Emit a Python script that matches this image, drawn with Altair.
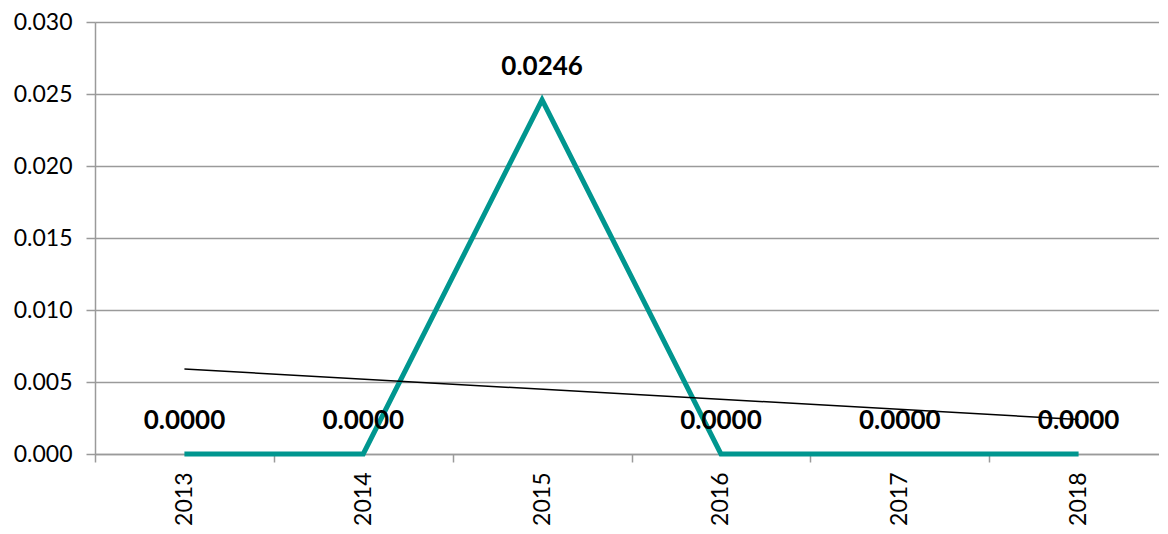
import altair as alt
import pandas as pd

years = ["2013", "2014", "2015", "2016", "2017", "2018"]
values = [0.0, 0.0, 0.0246, 0.0, 0.0, 0.0]
labels = ["0.0000", "0.0000", "0.0246", "0.0000", "0.0000", "0.0000"]
trend_years = ["2013", "2018"]
trend_values = [0.0059, 0.0024]

df = pd.DataFrame({"year": years, "value": values, "label": labels})
tdf = pd.DataFrame({"year": trend_years, "value": trend_values})

FONT = "Lato"
GRID = "#9a9a9a"

xenc = alt.X(
    "year:N",
    sort=years,
    bandPosition=0.5,
    scale=alt.Scale(type="band", domain=years, paddingInner=0, paddingOuter=0),
    axis=alt.Axis(
        title=None,
        labelAngle=-90,
        labelFont=FONT,
        labelFontSize=23,
        labelColor="#000000",
        labelPadding=10,
        tickBand="extent",
        tickColor=GRID,
        tickSize=8,
        tickWidth=1.5,
        domainColor=GRID,
        domainWidth=1.5,
        grid=False,
    ),
)

yscale = alt.Scale(domain=[0, 0.03], nice=False)
yenc = alt.Y(
    "value:Q",
    scale=yscale,
    axis=alt.Axis(
        title=None,
        values=[0, 0.005, 0.01, 0.015, 0.02, 0.025, 0.03],
        format=".3f",
        labelFont=FONT,
        labelFontSize=23,
        labelColor="#000000",
        labelPadding=14,
        tickColor=GRID,
        tickSize=9,
        tickWidth=1.5,
        domainColor=GRID,
        domainWidth=1.5,
        gridColor=GRID,
        gridWidth=1.5,
    ),
)

line = alt.Chart(df).mark_line(color="#00968F", strokeWidth=5).encode(x=xenc, y=yenc)

text = alt.Chart(df).mark_text(
    font=FONT, fontSize=26, fontWeight="bold", color="#000000", dy=-25, baseline="alphabetic"
).encode(
    x=alt.X("year:N", sort=years, bandPosition=0.5),
    y=alt.Y("value:Q"),
    text="label:N",
)

trend = alt.Chart(tdf).mark_line(color="#000000", strokeWidth=1.5).encode(
    x=alt.X("year:N", sort=years, bandPosition=0.5),
    y=alt.Y("value:Q"),
)

chart = (
    alt.layer(line, text, trend)
    .properties(
        width=1073,
        height=432,
        autosize=alt.AutoSizeParams(type="none"),
        padding={"left": 87, "top": 14, "right": -9, "bottom": 74},
    )
    .configure_view(stroke=None)
    .configure(background="#ffffff")
)

chart.save("out.html", embed_options={"renderer": "svg", "actions": False})
